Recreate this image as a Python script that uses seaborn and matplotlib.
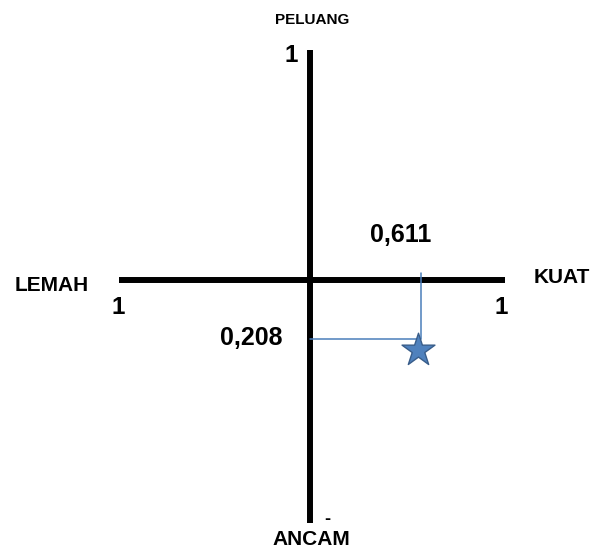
import matplotlib
matplotlib.use("Agg")
import matplotlib.pyplot as plt
import matplotlib.transforms as mtransforms
import seaborn as sns
import pandas as pd

# ---- data ----
axis_labels = ["LEMAH", "KUAT", "PELUANG", "ANCAM"]
end_labels = ["1", "1", "1", "-"]          # left, right, top, bottom
point_x = [0.611]                          # strength - weakness
point_y = [-0.208]                         # opportunity - threat
value_labels = ["0,611", "0,208"]

sns.set_theme(style="white")
plt.rcParams["font.family"] = ["Liberation Sans", "DejaVu Sans"]

W, H, DPI = 608, 552, 100
fig = plt.figure(figsize=(W / DPI, H / DPI), dpi=DPI)
ax = fig.add_axes([0, 0, 1, 1])
ax.set_axis_off()

# scale: origin at pixel (310, 280); 182 px per unit in x, 284 px per unit in y
cx, cy, sx, sy = 310, 280, 182, 284
ax.set_xlim(-cx / sx, (W - cx) / sx)
ax.set_ylim(-(H - cy) / sy, cy / sy)

def px(x, y):
    return ((x - cx) / sx, (cy - y) / sy)

# quadrant axes
(hx0, hy), (hx1, _) = px(119, 280), px(505, 280)
(vx, vy0), (_, vy1) = px(310, 50), px(310, 523)
ax.plot([hx0, hx1], [0, 0], color="black", lw=4.3, solid_capstyle="butt", zorder=2)
ax.plot([0, 0], [vy1, vy0], color="black", lw=4.3, solid_capstyle="butt", zorder=2)

# guide lines to point
blue = "#4A7EBB"
guide = pd.DataFrame({"x": [0, point_x[0], point_x[0]],
                      "y": [point_y[0], point_y[0], px(0, 273)[1]]})
sns.lineplot(data=guide, x="x", y="y", sort=False, color=blue, lw=1.1, ax=ax,
             estimator=None, zorder=3)

# star
star_tr = mtransforms.offset_copy(ax.transData, fig=fig, x=-3, y=-11, units="dots")
sns.scatterplot(x=point_x, y=point_y, marker="*", s=620, color="#4F81BD",
                edgecolor="#385D8A", linewidth=1.0, ax=ax, transform=star_tr, zorder=4)

def label(xp, yp, s, size, va="baseline"):
    ax.text(*px(xp, yp), s, fontsize=size, fontweight="bold", ha="center", va=va,
            color="black")

# axis names
label(52, 291, axis_labels[0], 15)
label(562, 283, axis_labels[1], 15)
label(312, 24, axis_labels[2], 11)
label(311, 545, axis_labels[3], 15)

# end labels
label(118, 314, end_labels[0], 17.5)
label(501, 314, end_labels[1], 17.5)
label(291, 62, end_labels[2], 17.5)
ax.text(*px(327, 524), end_labels[3], fontsize=13, fontweight="black",
        ha="center", va="baseline", color="black")

# value labels
label(401, 242, value_labels[0], 18)
label(251, 345, value_labels[1], 18)

fig.savefig("out.png", dpi=DPI, facecolor="white")
